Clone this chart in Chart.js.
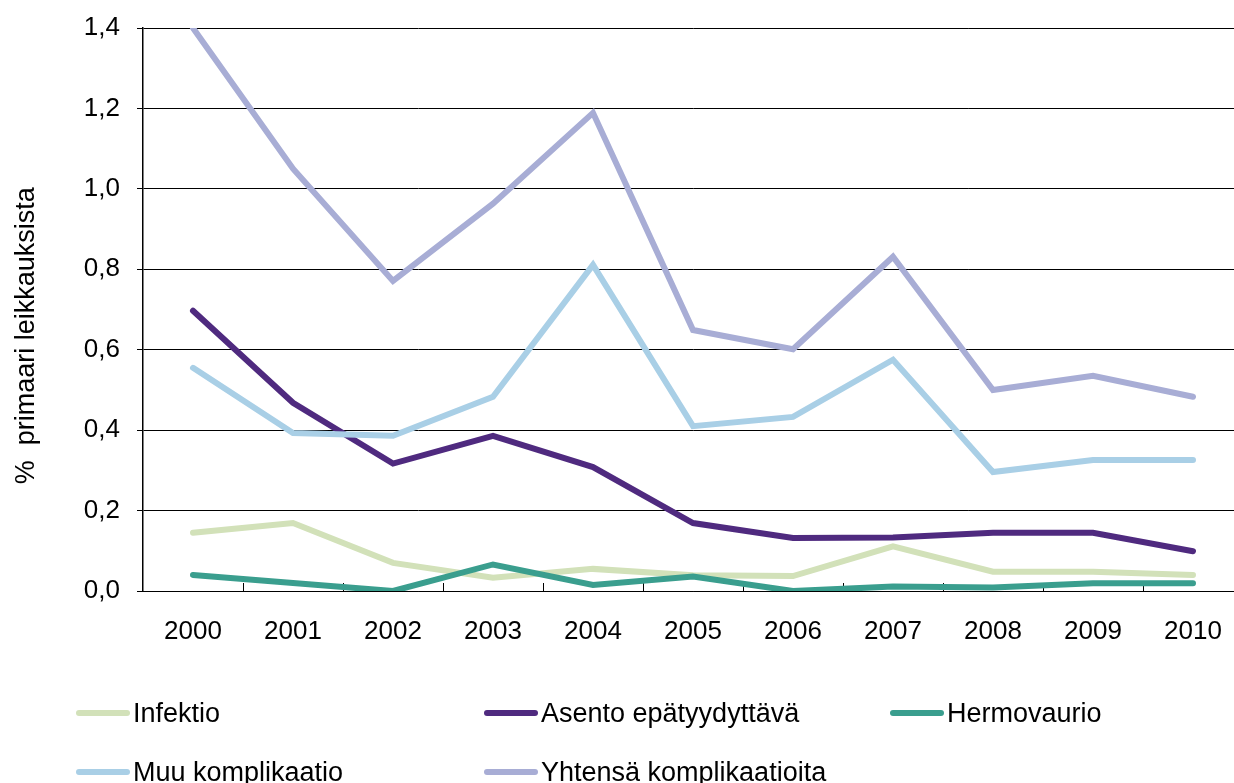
<!DOCTYPE html>
<html>
<head>
<meta charset="utf-8">
<script src="https://cdn.jsdelivr.net/npm/chart.js@4.4.0/dist/chart.umd.min.js"></script>
<style>
  html, body { margin: 0; padding: 0; background: #fff; overflow: hidden; width: 1234px; height: 783px; }
  #wrap { position: absolute; left: 0; top: 0; width: 1250px; height: 783px; }
  #legend { position: absolute; left: 0; top: 0; font-family: "Liberation Sans", Arial, sans-serif; font-size: 27px; color: #000; }
  .item { position: absolute; display: flex; align-items: center; white-space: nowrap; height: 30px; }
  .swatch { width: 54px; height: 6px; border-radius: 3px; margin-right: 3px; }
</style>
</head>
<body>
<div id="wrap"><canvas id="chart"></canvas></div>
<div id="legend"></div>
<script>
// ===================== DATA =====================
const years = ["2000", "2001", "2002", "2003", "2004", "2005", "2006", "2007", "2008", "2009", "2010"];
const infektio = [0.145, 0.169, 0.07, 0.033, 0.055, 0.039, 0.037, 0.111, 0.048, 0.048, 0.04];
const asento = [0.697, 0.468, 0.317, 0.386, 0.308, 0.169, 0.132, 0.133, 0.145, 0.145, 0.099];
const hermovaurio = [0.04, 0.02, 0.0, 0.066, 0.015, 0.036, 0.0, 0.011, 0.009, 0.019, 0.019];
const muu = [0.555, 0.393, 0.386, 0.483, 0.811, 0.41, 0.433, 0.575, 0.296, 0.326, 0.326];
const yhteensa = [1.4, 1.05, 0.771, 0.963, 1.189, 0.649, 0.601, 0.831, 0.5, 0.535, 0.483];

const seriesNames = ["Infektio", "Asento epätyydyttävä", "Hermovaurio", "Muu komplikaatio", "Yhtensä komplikaatioita"];
const seriesColors = ["#d2e1b9", "#4f2a7f", "#3a9e8e", "#a9cfe6", "#a8add5"];
const seriesData = [infektio, asento, hermovaurio, muu, yhteensa];

const yMin = 0;
const yMax = 1.4;
const yStep = 0.2;
const yTitle = "%  primaari leikkauksista";

const FONT = "'Liberation Sans', Arial, sans-serif";

// ===================== INNER TICK MARKS ON X AXIS =====================
const innerTicks = {
  id: "innerTicks",
  beforeDatasetsDraw(chart) {
    const xs = chart.scales.x;
    const bottom = chart.chartArea.bottom;
    const ctx = chart.ctx;
    ctx.save();
    ctx.strokeStyle = "#000";
    ctx.lineWidth = 1;
    ctx.beginPath();
    for (let i = 1; i < years.length; i++) {
      const x = Math.round((xs.getPixelForValue(i - 1) + xs.getPixelForValue(i)) / 2) + 0.5;
      ctx.moveTo(x, bottom);
      ctx.lineTo(x, bottom - 8);
    }
    ctx.stroke();
    ctx.restore();
  }
};

// ===================== CHART =====================
const ctx = document.getElementById("chart").getContext("2d");

new Chart(ctx, {
  type: "line",
  data: {
    labels: years,
    datasets: seriesNames.map((name, i) => ({
      label: name,
      data: seriesData[i],
      borderColor: seriesColors[i],
      backgroundColor: seriesColors[i],
      borderWidth: 6,
      borderCapStyle: "round",
      pointRadius: 0,
      pointHoverRadius: 0,
      tension: 0,
      clip: 0,
      order: seriesNames.length - i
    }))
  },
  options: {
    responsive: true,
    maintainAspectRatio: false,
    animation: false,
    events: [],
    layout: {
      padding: { left: 0, top: 28, right: 7, bottom: 132 }
    },
    plugins: {
      legend: { display: false },
      tooltip: { enabled: false }
    },
    scales: {
      x: {
        offset: true,
        grid: { display: false, drawTicks: false },
        border: { display: true, color: "#000", width: 1 },
        ticks: {
          color: "#000",
          padding: 25,
          font: { family: FONT, size: 26 },
          maxRotation: 0
        },
        afterFit(scale) {
          scale.height = 60;
          scale.paddingLeft = 0;
          scale.paddingRight = 0;
        }
      },
      y: {
        min: yMin,
        max: yMax,
        grid: {
          color: "#000",
          lineWidth: 1,
          drawTicks: true,
          tickLength: 6,
          tickColor: "#000"
        },
        border: { display: true, color: "#000", width: 1.5 },
        ticks: {
          stepSize: yStep,
          color: "#000",
          padding: 17,
          font: { family: FONT, size: 26 },
          callback: (v) => v.toFixed(1).replace(".", ",")
        },
        title: {
          display: true,
          text: yTitle + "       ",
          color: "#000",
          font: { family: FONT, size: 27 },
          padding: { top: 10, bottom: 0 }
        },
        afterFit(scale) {
          scale.width = 143;
          scale.paddingTop = 0;
          scale.paddingBottom = 0;
        }
      }
    }
  },
  plugins: [innerTicks]
});

// ===================== HTML LEGEND =====================
const legendEl = document.getElementById("legend");
const legendCols = [76, 484, 890];
const legendRows = [713, 772];
seriesNames.forEach((name, i) => {
  const item = document.createElement("div");
  item.className = "item";
  item.style.left = legendCols[i % 3] + "px";
  item.style.top = (legendRows[Math.floor(i / 3)] - 15) + "px";
  item.innerHTML = `<span class="swatch" style="background:${seriesColors[i]}"></span><span>${name}</span>`;
  legendEl.appendChild(item);
});
</script>
</body>
</html>
